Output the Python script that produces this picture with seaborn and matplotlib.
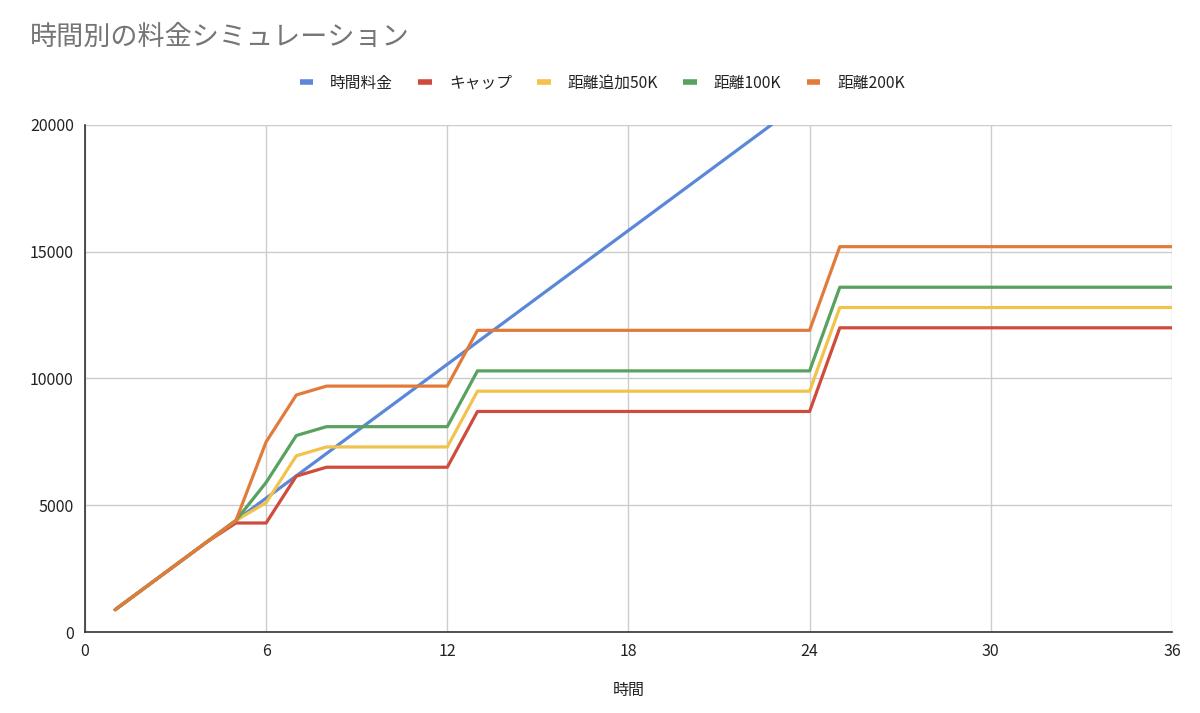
import matplotlib
matplotlib.use("Agg")
import matplotlib.pyplot as plt
import seaborn as sns
import pandas as pd

hours = [1, 2, 3, 4, 5, 6, 7, 8, 9, 10, 11, 12, 13, 14, 15, 16, 17, 18,
         19, 20, 21, 22, 23, 24, 25, 26, 27, 28, 29, 30, 31, 32, 33, 34, 35, 36]

hourly = [880, 1760, 2640, 3520, 4400, 5280, 6160, 7040, 7920, 8800, 9680, 10560,
          11440, 12320, 13200, 14080, 14960, 15840, 16720, 17600, 18480, 19360, 20240, 21120,
          22000, 22880, 23760, 24640, 25520, 26400, 27280, 28160, 29040, 29920, 30800, 31680]

cap = [880, 1760, 2640, 3520, 4300, 4300, 6150, 6500, 6500, 6500, 6500, 6500,
       8700, 8700, 8700, 8700, 8700, 8700, 8700, 8700, 8700, 8700, 8700, 8700,
       12000, 12000, 12000, 12000, 12000, 12000, 12000, 12000, 12000, 12000, 12000, 12000]

dist50 = [880, 1760, 2640, 3520, 4400, 5100, 6950, 7300, 7300, 7300, 7300, 7300,
          9500, 9500, 9500, 9500, 9500, 9500, 9500, 9500, 9500, 9500, 9500, 9500,
          12800, 12800, 12800, 12800, 12800, 12800, 12800, 12800, 12800, 12800, 12800, 12800]

dist100 = [880, 1760, 2640, 3520, 4400, 5900, 7750, 8100, 8100, 8100, 8100, 8100,
           10300, 10300, 10300, 10300, 10300, 10300, 10300, 10300, 10300, 10300, 10300, 10300,
           13600, 13600, 13600, 13600, 13600, 13600, 13600, 13600, 13600, 13600, 13600, 13600]

dist200 = [880, 1760, 2640, 3520, 4400, 7500, 9350, 9700, 9700, 9700, 9700, 9700,
           11900, 11900, 11900, 11900, 11900, 11900, 11900, 11900, 11900, 11900, 11900, 11900,
           15200, 15200, 15200, 15200, 15200, 15200, 15200, 15200, 15200, 15200, 15200, 15200]

series_names = ["時間料金", "キャップ", "距離追加50K", "距離100K", "距離200K"]
series_values = [hourly, cap, dist50, dist100, dist200]
colors = ["#5b87d8", "#cf4c3c", "#f1c34c", "#58a15e", "#e27b3a"]

x_ticks = [0, 6, 12, 18, 24, 30, 36]
y_ticks = [0, 5000, 10000, 15000, 20000]

rows = []
for name, vals in zip(series_names, series_values):
    for h, v in zip(hours, vals):
        rows.append({"時間": h, "料金": v, "系列": name})
df = pd.DataFrame(rows)

sns.set_theme(style="white")
plt.rcParams["font.family"] = ["Noto Sans CJK JP", "DejaVu Sans"]

fig = plt.figure(figsize=(12, 7.13), dpi=100)
ax = fig.add_axes([0.0708, 0.1136, 0.9058, 0.7111])

sns.lineplot(data=df, x="時間", y="料金", hue="系列", hue_order=series_names,
             palette=dict(zip(series_names, colors)), linewidth=2.3, ax=ax,
             legend=True)

ax.set_xlim(0, 36)
ax.set_ylim(0, 20000)
ax.set_xticks(x_ticks)
ax.set_yticks(y_ticks)
ax.set_xticklabels([str(t) for t in x_ticks])
ax.set_yticklabels([str(t) for t in y_ticks])
ax.tick_params(axis="both", labelsize=11.5, colors="#222222", length=0, pad=8)
ax.grid(True, color="#cccccc", linewidth=1.0)
ax.set_axisbelow(True)
for s in ["top", "right"]:
    ax.spines[s].set_visible(False)
ax.spines["left"].set_color("#333333")
ax.spines["bottom"].set_color("#333333")
ax.spines["left"].set_linewidth(1.2)
ax.spines["bottom"].set_linewidth(1.2)

ax.set_xlabel("時間", fontsize=11.5, color="#222222", labelpad=16)
ax.set_ylabel("")

handles, labels = ax.get_legend_handles_labels()
ax.get_legend().remove()
for hdl in handles:
    hdl.set_linewidth(4)
    hdl.set_solid_capstyle("butt")
fig.legend(handles, labels, loc="center", bbox_to_anchor=(0.502, 0.883), ncol=5,
           frameon=False, fontsize=11.3, handlelength=0.85, handletextpad=1.1,
           columnspacing=1.6, labelcolor="#222222")

fig.text(0.025, 0.948, "時間別の料金シミュレーション", fontsize=19.5, color="#757575",
         ha="left", va="center")

fig.savefig("out.png", dpi=100)
